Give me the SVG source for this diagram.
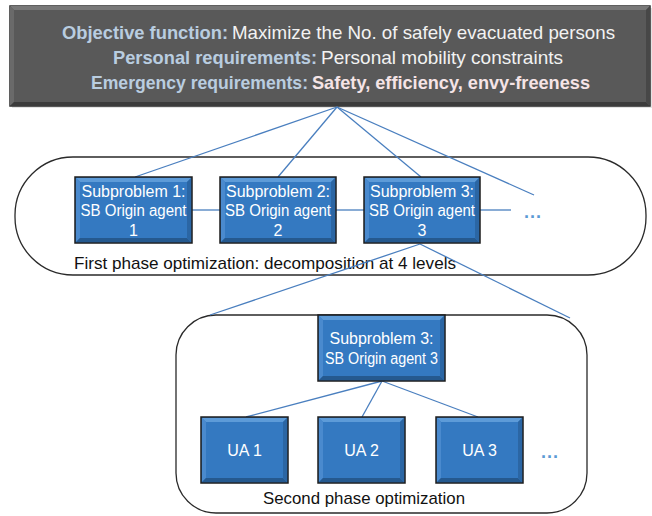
<svg xmlns="http://www.w3.org/2000/svg" width="652" height="516" viewBox="0 0 652 516">
<style>
.hdr{font-family:"Liberation Sans",Arial,sans-serif;font-size:19px}
.lab{fill:#b9cde0;font-weight:bold}
.val{fill:#f2f2f2}
.valb{fill:#f5e4e6;font-weight:bold}
.bx{fill:#3479c1;stroke:#1c1c1c;stroke-width:1.5}
.hl{fill:#5d9bd8}
.hl2{fill:#4a8ace}
.dk{fill:#25598f}
.dk2{fill:#2b66a4}
.bt{font-family:"Liberation Sans",Arial,sans-serif;font-size:16px;fill:#ffffff;text-anchor:middle}
.pill{fill:#ffffff;stroke:#2a2a2a;stroke-width:1.3}
.cap{font-family:"Liberation Sans",Arial,sans-serif;font-size:17px;fill:#111}
.con line{stroke:#4a7fbf;stroke-width:1.3}
.dots{font-family:"Liberation Sans",Arial,sans-serif;font-size:18px;fill:#5b9bd5;font-weight:bold;letter-spacing:1px}
</style>
<rect width="652" height="516" fill="#ffffff"/>
<g id="top">
<rect x="12" y="8" width="640" height="100" fill="#c8c8c8" opacity="0.5"/>
<rect x="10" y="6" width="640" height="100" fill="#595959" stroke="#2b2b2b" stroke-width="1.5"/>
<polygon points="10,6 650,6 646,10 14,10" fill="#787878"/>
<polygon points="10,6 14,10 14,102 10,106" fill="#6a6a6a"/>
<polygon points="10,106 14,102 646,102 650,106" fill="#3c3c3c"/>
<polygon points="650,6 650,106 646,102 646,10" fill="#474747"/>
<text class="hdr lab" x="62" y="39" textLength="166" lengthAdjust="spacingAndGlyphs">Objective function:</text>
<text class="hdr val" x="232" y="39" textLength="383" lengthAdjust="spacingAndGlyphs">Maximize the No. of safely evacuated persons</text>
<text class="hdr lab" x="113" y="64" textLength="204" lengthAdjust="spacingAndGlyphs">Personal requirements:</text>
<text class="hdr val" x="321" y="64" textLength="242" lengthAdjust="spacingAndGlyphs">Personal mobility constraints</text>
<text class="hdr lab" x="91" y="89" textLength="217" lengthAdjust="spacingAndGlyphs">Emergency requirements:</text>
<text class="hdr valb" x="312" y="89" textLength="278" lengthAdjust="spacingAndGlyphs">Safety, efficiency, envy-freeness</text>
</g>
<g id="phase1">
<rect class="pill" x="15" y="157" width="631" height="118" rx="58" ry="58"/>
<text class="cap" x="74" y="269" textLength="382" lengthAdjust="spacingAndGlyphs">First phase optimization: decomposition at 4 levels</text>
</g>
<g id="phase2">
<rect class="pill" x="176" y="315" width="411" height="198" rx="40" ry="40"/>
<text class="cap" x="263" y="504" textLength="202" lengthAdjust="spacingAndGlyphs">Second phase optimization</text>
</g>
<g id="connectors" class="con">
<line x1="337" y1="107" x2="135" y2="177"/>
<line x1="337" y1="107" x2="278" y2="177"/>
<line x1="337" y1="107" x2="421" y2="177"/>
<line x1="337" y1="107" x2="534" y2="195"/>
<line x1="192" y1="210" x2="220" y2="210"/>
<line x1="336" y1="210" x2="364" y2="210"/>
<line x1="480" y1="210" x2="511" y2="210"/>
<line x1="420" y1="244" x2="210" y2="315"/>
<line x1="420" y1="244" x2="570" y2="318"/>
<line x1="382" y1="381" x2="246" y2="417"/>
<line x1="382" y1="381" x2="362" y2="417"/>
<line x1="382" y1="381" x2="478" y2="417"/>
</g>
<g id="sub1">
<rect class="bx" x="75" y="177" width="117" height="66"/>
<polygon class="hl" points="76,178 191,178 187,182 80,182"/>
<polygon class="hl2" points="76,178 80,182 80,238 76,242"/>
<polygon class="dk" points="76,242 80,238 187,238 191,242"/>
<polygon class="dk2" points="191,178 191,242 187,238 187,182"/>
<text class="bt" x="133.5" y="197">Subproblem 1:</text>
<text class="bt" x="133.5" y="216" textLength="106" lengthAdjust="spacingAndGlyphs">SB Origin agent</text>
<text class="bt" x="133.5" y="236">1</text>
</g>
<g id="sub2">
<rect class="bx" x="220" y="177" width="116" height="66"/>
<polygon class="hl" points="221,178 335,178 331,182 225,182"/>
<polygon class="hl2" points="221,178 225,182 225,238 221,242"/>
<polygon class="dk" points="221,242 225,238 331,238 335,242"/>
<polygon class="dk2" points="335,178 335,242 331,238 331,182"/>
<text class="bt" x="278" y="197">Subproblem 2:</text>
<text class="bt" x="278" y="216" textLength="106" lengthAdjust="spacingAndGlyphs">SB Origin agent</text>
<text class="bt" x="278" y="236">2</text>
</g>
<g id="sub3">
<rect class="bx" x="364" y="177" width="116" height="66"/>
<polygon class="hl" points="365,178 479,178 475,182 369,182"/>
<polygon class="hl2" points="365,178 369,182 369,238 365,242"/>
<polygon class="dk" points="365,242 369,238 475,238 479,242"/>
<polygon class="dk2" points="479,178 479,242 475,238 475,182"/>
<text class="bt" x="422" y="197">Subproblem 3:</text>
<text class="bt" x="422" y="216" textLength="106" lengthAdjust="spacingAndGlyphs">SB Origin agent</text>
<text class="bt" x="422" y="236">3</text>
</g>
<g id="more1">
<text class="dots" x="524" y="218">...</text>
</g>
<g id="sub3b">
<rect class="bx" x="318" y="315" width="127" height="66"/>
<polygon class="hl" points="319,316 444,316 440,320 323,320"/>
<polygon class="hl2" points="319,316 323,320 323,376 319,380"/>
<polygon class="dk" points="319,380 323,376 440,376 444,380"/>
<polygon class="dk2" points="444,316 444,380 440,376 440,320"/>
<text class="bt" x="381.5" y="344">Subproblem 3:</text>
<text class="bt" x="381.5" y="364" textLength="113" lengthAdjust="spacingAndGlyphs">SB Origin agent 3</text>
</g>
<g id="ua1">
<rect class="bx" x="201" y="417" width="87" height="66"/>
<polygon class="hl" points="202,418 287,418 283,422 206,422"/>
<polygon class="hl2" points="202,418 206,422 206,478 202,482"/>
<polygon class="dk" points="202,482 206,478 283,478 287,482"/>
<polygon class="dk2" points="287,418 287,482 283,478 283,422"/>
<text class="bt" x="244.5" y="456">UA 1</text>
</g>
<g id="ua2">
<rect class="bx" x="318" y="417" width="87" height="66"/>
<polygon class="hl" points="319,418 404,418 400,422 323,422"/>
<polygon class="hl2" points="319,418 323,422 323,478 319,482"/>
<polygon class="dk" points="319,482 323,478 400,478 404,482"/>
<polygon class="dk2" points="404,418 404,482 400,478 400,422"/>
<text class="bt" x="361.5" y="456">UA 2</text>
</g>
<g id="ua3">
<rect class="bx" x="436" y="417" width="87" height="66"/>
<polygon class="hl" points="437,418 522,418 518,422 441,422"/>
<polygon class="hl2" points="437,418 441,422 441,478 437,482"/>
<polygon class="dk" points="437,482 441,478 518,478 522,482"/>
<polygon class="dk2" points="522,418 522,482 518,478 518,422"/>
<text class="bt" x="479.5" y="456">UA 3</text>
</g>
<g id="more2">
<text class="dots" x="541" y="458">...</text>
</g>
</svg>
